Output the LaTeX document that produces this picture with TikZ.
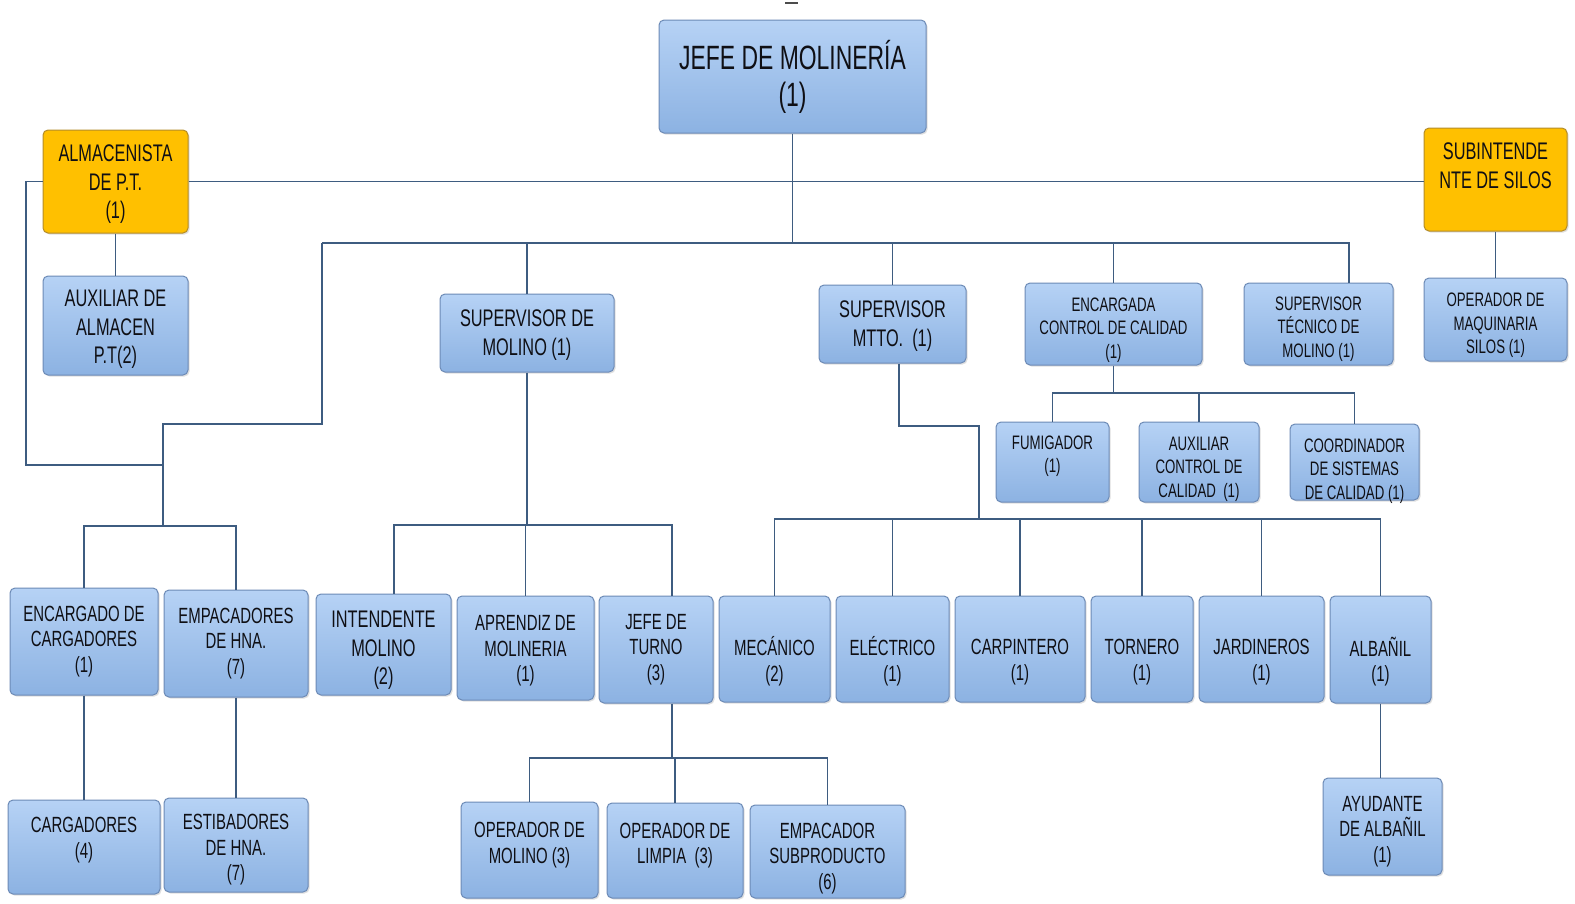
\documentclass[tikz,border=0pt]{standalone}
\usepackage{fontspec}
\setmainfont{Liberation Sans}
\usetikzlibrary{shadows}
\definecolor{btop}{RGB}{182,210,245}
\definecolor{bbot}{RGB}{140,178,226}
\definecolor{bord}{RGB}{108,138,182}
\definecolor{goldf}{RGB}{255,192,0}
\definecolor{goldb}{RGB}{180,140,40}
\definecolor{lin}{RGB}{62,92,128}
\definecolor{txt}{RGB}{15,15,20}
\newcommand\tf[2]{\fontsize{#1}{#2}\selectfont\addfontfeature{FakeStretch=0.68}}
% \bx[box opts]{name}{x1}{y1}{x2}{y2}{font style}{text shift down}{text}
\newcommand\bx[9][]{%
  \node[box,#1,minimum width=\the\dimexpr#5pt-#3pt\relax,minimum height=\the\dimexpr#6pt-#4pt\relax] (#2) at ({(#3+#5)/2},{(#4+#6)/2}) {};
  \node[lbl,#7] (#2-t) at ([yshift=-#8pt]#2.center) {#9};}
\tikzset{
  box/.style={draw=bord, line width=1pt, rounded corners=5pt, top color=btop, bottom color=bbot,
    inner sep=0pt,
    drop shadow={shadow xshift=1.5pt, shadow yshift=-1.5pt, opacity=0.25}},
  lbl/.style={align=center, inner sep=0pt, text=txt},
  gold/.style={top color=goldf, bottom color=goldf, draw=goldb},
  conn/.style={draw=lin, line width=1.3pt},
  fA/.style={font=\tf{33.7}{37}},
  fB/.style={font=\tf{24}{28.5}},
  fC/.style={font=\tf{22}{25.5}},
  fD/.style={font=\tf{19.5}{23.5}},
}
\begin{document}
\begin{tikzpicture}[x=1pt,y=-1pt]
\fill[white] (0,0) rectangle (1575,903);
\useasboundingbox (0,0) rectangle (1575,903);
\draw[line width=2.5pt, black!70] (785,3) -- (798,3);
% top
\bx{jefe}{659}{20}{926}{133}{fA}{0}{JEFE DE MOLINERÍA\\(1)}
\bx[gold]{alm}{43}{130}{188}{233}{fB}{3}{ALMACENISTA\\DE P.T.\\(1)}
\bx{auxa}{43}{276}{188}{375}{fB}{4}{AUXILIAR DE\\ALMACEN\\P.T(2)}
\bx[gold]{sub}{1424}{128}{1567}{231}{fB}{-14}{SUBINTENDE\\NTE DE SILOS}
\bx{ops}{1424}{278}{1567}{361}{fD}{6}{OPERADOR DE\\MAQUINARIA\\SILOS (1)}
% second tier
\bx{smol}{440}{294}{614}{372}{fB}{2}{SUPERVISOR DE\\MOLINO (1)}
\bx{smtto}{819}{285}{966}{363}{fB}{2}{SUPERVISOR\\MTTO.~ (1)}
\bx{encq}{1025}{283}{1202}{365}{fD}{6}{ENCARGADA\\CONTROL DE CALIDAD\\(1)}
\bx{stec}{1244}{283}{1393}{365}{fD}{5}{SUPERVISOR\\TÉCNICO DE\\MOLINO (1)}
\bx{fum}{996}{422}{1109}{502}{fD}{-6}{FUMIGADOR\\(1)}
\bx{auxc}{1139}{422}{1259}{502}{fD}{7}{AUXILIAR\\CONTROL DE\\CALIDAD~ (1)}
\bx{coord}{1290}{424}{1419}{500}{fD}{9}{COORDINADOR\\DE SISTEMAS\\DE CALIDAD (1)}
% third tier
\bx{encc}{10}{588}{158}{695}{fC}{0}{ENCARGADO DE\\CARGADORES\\(1)}
\bx{emph}{164}{590}{308}{697}{fC}{0}{EMPACADORES\\DE HNA.\\(7)}
\bx{int}{316}{594}{451}{695}{fB}{6}{INTENDENTE\\MOLINO\\(2)}
\bx{apr}{457}{596}{594}{700}{fC}{3}{APRENDIZ DE\\MOLINERIA\\(1)}
\bx{turno}{599}{596}{713}{703}{fC}{0}{JEFE DE\\TURNO\\(3)}
\bx{mec}{719}{596}{830}{702}{fC}{12}{MECÁNICO\\(2)}
\bx{ele}{836}{596}{949}{702}{fC}{12}{ELÉCTRICO\\(1)}
\bx{carp}{955}{596}{1085}{702}{fC}{13}{CARPINTERO\\(1)}
\bx{torn}{1091}{596}{1193}{702}{fC}{13}{TORNERO\\(1)}
\bx{jard}{1199}{596}{1324}{702}{fC}{13}{JARDINEROS\\(1)}
\bx{alb}{1330}{596}{1431}{703}{fC}{12}{ALBAÑIL\\(1)}
% bottom tier
\bx{carg}{8}{800}{160}{894}{fC}{-7}{CARGADORES\\(4)}
\bx{esti}{164}{798}{308}{892}{fC}{5}{ESTIBADORES\\DE HNA.\\(7)}
\bx{opm}{461}{802}{598}{898}{fC}{-5}{OPERADOR DE\\MOLINO (3)}
\bx{opl}{607}{803}{743}{898}{fC}{-5}{OPERADOR DE\\LIMPIA~ (3)}
\bx{emps}{750}{805}{905}{898}{fC}{7}{EMPACADOR\\SUBPRODUCTO\\(6)}
\bx{ayu}{1323}{778}{1442}{875}{fC}{5}{AYUDANTE\\DE ALBAÑIL\\(1)}
% connectors
\coordinate (busA) at (0,243);
\draw[conn] (jefe.south) -- (jefe.south |- busA);
\coordinate (L1) at (322,243);
\coordinate (R1) at (1349,243);
\draw[conn] (L1) -- (R1) -- (R1 |- stec.north);
\draw[conn] (smol.north) -- (smol.north |- busA);
\draw[conn] (smtto.north) -- (smtto.north |- busA);
\draw[conn] (encq.north) -- (encq.north |- busA);
\coordinate (L2) at (322,424);
\coordinate (L3) at (163,424);
\coordinate (L4) at (163,526);
\draw[conn] (L1) -- (L2) -- (L3) -- (L4);
\coordinate (K1) at (26,465);
\draw[conn] (alm.west) -- (alm.west -| K1) -- (K1) -- (K1 -| L4);
\draw[conn] (encc.north) |- (L4) -| (emph.north);
\draw[conn] (alm.east) -- (alm.east -| sub.west);
\draw[conn] (alm.south) -- (auxa.north);
\draw[conn] (sub.south) -- (ops.north);
\coordinate (M1) at (394,525);
\coordinate (M2) at (672,525);
\draw[conn] (smol.south) -- (smol.south |- M1);
\draw[conn] (M1 |- int.north) -- (M1) -- (M2) -- (M2 |- turno.north);
\draw[conn] (apr.north) -- (apr.north |- M1);
\coordinate (T1) at (672,758);
\draw[conn] (T1 |- turno.south) -- (T1);
\draw[conn] (opm.north) |- (T1) -| (emps.north);
\draw[conn] (opl.north) -- (opl.north |- T1);
\coordinate (X1) at (899,426);
\coordinate (X2) at (979,426);
\coordinate (X3) at (979,519);
\draw[conn] (X1 |- smtto.south) -- (X1) -- (X2) -- (X3);
\draw[conn] (mec.north) |- (X3) -| (alb.north);
\foreach \n in {ele,carp,torn,jard} \draw[conn] (\n.north) -- (\n.north |- X3);
\coordinate (Q1) at (0,393);
\draw[conn] (encq.south) -- (encq.south |- Q1);
\draw[conn] (fum.north) |- (coord.north |- Q1) -- (coord.north);
\draw[conn] (auxc.north) -- (auxc.north |- Q1);
\draw[conn] (alb.south) -- (alb.south |- ayu.north);
\draw[conn] (encc.south) -- (carg.north);
\draw[conn] (emph.south) -- (esti.north);
\end{tikzpicture}
\end{document}
